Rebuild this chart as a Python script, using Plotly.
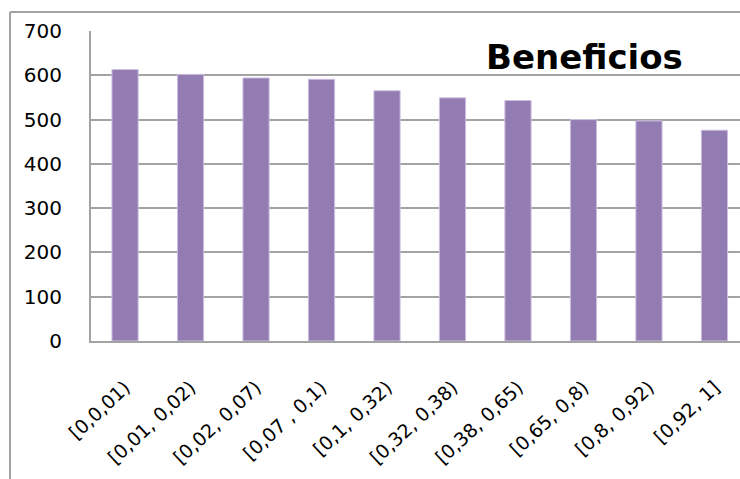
import plotly.graph_objects as go

categories = ["[0,0,01)", "[0,01, 0,02)", "[0,02, 0,07)", "[0,07 , 0,1)", "[0,1, 0,32)",
              "[0,32, 0,38)", "[0,38, 0,65)", "[0,65, 0,8)", "[0,8, 0,92)", "[0,92, 1]"]
beneficios = [613, 602, 594, 591, 565, 549, 543, 500, 497, 476]
y_ticks = [0, 100, 200, 300, 400, 500, 600, 700]

W, H = 740, 479
L, R, T, B = 91, 0, 31, 138
pw, ph = W - L - R, H - T - B

fig = go.Figure(go.Bar(
    x=list(range(len(categories))), y=beneficios,
    marker=dict(color="#937CB2", line=dict(color="#CDBFE0", width=1)),
    width=0.4,
))

grid = "#A3A3A3"
fig.update_layout(
    width=W, height=H,
    margin=dict(l=L, r=R, t=T, b=B, pad=0),
    paper_bgcolor="white", plot_bgcolor="white",
    showlegend=False,
    font=dict(family="DejaVu Sans", color="black"),
    xaxis=dict(
        range=[-0.52, 9.39], tickmode="array",
        tickvals=list(range(len(categories))), ticktext=categories,
        tickangle=-43, tickfont=dict(size=19, family="DejaVu Sans"),
        showgrid=False, zeroline=False, showline=True, linecolor=grid, linewidth=2,
        ticks="", ticklabelstandoff=26, fixedrange=True,
    ),
    yaxis=dict(
        range=[0, 700], tickmode="array", tickvals=y_ticks,
        tickfont=dict(size=20, family="DejaVu Sans"),
        showgrid=True, gridcolor=grid, gridwidth=2,
        zeroline=False, showline=True, linecolor=grid, linewidth=2,
        ticks="", ticklabelstandoff=23,
    ),
    annotations=[dict(
        text="<b>Beneficios</b>", xref="paper", yref="paper",
        x=(584 - L) / pw, y=(H - B - 57) / ph, xanchor="center", yanchor="middle",
        showarrow=False, font=dict(size=34, family="DejaVu Sans", color="black"),
    )],
    shapes=[
        dict(type="line", xref="paper", yref="paper",
             x0=(10 - L) / pw, x1=(10 - L) / pw, y0=(H - B - 479) / ph, y1=(H - B - 12) / ph,
             line=dict(color=grid, width=2)),
        dict(type="line", xref="paper", yref="paper",
             x0=(10 - L) / pw, x1=(745 - L) / pw, y0=(H - B - 12) / ph, y1=(H - B - 12) / ph,
             line=dict(color=grid, width=2)),
    ],
)

fig.write_html("out.html")
